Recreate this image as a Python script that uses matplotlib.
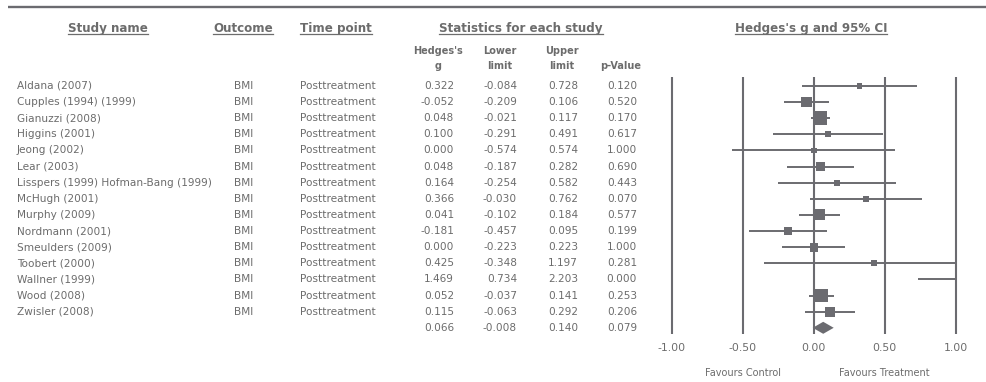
import matplotlib.pyplot as plt
import numpy as np

studies = ["Aldana (2007)", "Cupples (1994) (1999)", "Gianuzzi (2008)", "Higgins (2001)",
           "Jeong (2002)", "Lear (2003)", "Lisspers (1999) Hofman-Bang (1999)", "McHugh (2001)",
           "Murphy (2009)", "Nordmann (2001)", "Smeulders (2009)", "Toobert (2000)",
           "Wallner (1999)", "Wood (2008)", "Zwisler (2008)"]
outcome = "BMI"
timepoint = "Posttreatment"
g = [0.322, -0.052, 0.048, 0.100, 0.000, 0.048, 0.164, 0.366, 0.041, -0.181, 0.000, 0.425, 1.469, 0.052, 0.115]
lower = [-0.084, -0.209, -0.021, -0.291, -0.574, -0.187, -0.254, -0.030, -0.102, -0.457, -0.223, -0.348, 0.734, -0.037, -0.063]
upper = [0.728, 0.106, 0.117, 0.491, 0.574, 0.282, 0.582, 0.762, 0.184, 0.095, 0.223, 1.197, 2.203, 0.141, 0.292]
pval = [0.120, 0.520, 0.170, 0.617, 1.000, 0.690, 0.443, 0.070, 0.577, 0.199, 1.000, 0.281, 0.000, 0.253, 0.206]
pooled = [0.066, -0.008, 0.140, 0.079]
ticks = [-1.0, -0.5, 0.0, 0.5, 1.0]

TXT = "#6c6c6c"
LN = "#6b6b70"
W, H = 986, 382

def row(p):
    # pixel row from top -> table row units
    return (p - 86) / 16.12

fig = plt.figure(figsize=(W / 100, H / 100), dpi=100)
ax = fig.add_axes([0, 0, 1, 1])
ax.set_xlim(0, W)
ax.set_ylim(row(H), row(0))
ax.axis("off")

fa = fig.add_axes([672 / W, 0, (955.7 - 672) / W, 1])
fa.set_xlim(-1, 1)
fa.set_ylim(row(H), row(0))
fa.axis("off")

ax.plot([8, W], [row(6.5)] * 2, color=LN, lw=1.7, solid_capstyle="butt")

# column headers (bold, underlined)
headers = [("Study name", 108), ("Outcome", 243), ("Time point", 336),
           ("Statistics for each study", 521), ("Hedges's g and 95% CI", 811)]
htexts = []
for lab, x in headers:
    htexts.append(ax.text(x, row(32), lab, ha="center", va="baseline", fontsize=8.6,
                          fontweight="bold", color=TXT))

subs = [("Hedges's", "g", 438), ("Lower", "limit", 500), ("Upper", "limit", 562), ("", "p-Value", 621)]
for l1, l2, x in subs:
    ax.text(x, row(51), l1, ha="center", va="center", fontsize=7, fontweight="bold", color=TXT)
    ax.text(x, row(66), l2, ha="center", va="center", fontsize=7, fontweight="bold", color=TXT)

for i, name in enumerate(studies):
    ax.text(17, i, name, ha="left", va="center", fontsize=7.6, color=TXT)
    ax.text(234, i, outcome, ha="left", va="center", fontsize=7.6, color=TXT)
    ax.text(300, i, timepoint, ha="left", va="center", fontsize=7.6, color=TXT)

cols = [454, 517, 578, 637]
table = list(zip(g, lower, upper, pval)) + [tuple(pooled)]
for i, vals in enumerate(table):
    for x, v in zip(cols, vals):
        ax.text(x, i, f"{v:.3f}", ha="right", va="center", fontsize=7.6, color=TXT)

# forest plot
top, bot = row(77), row(334)
for t in ticks:
    fa.plot([t, t], [top, bot], color=LN, lw=1.5, clip_on=False, solid_capstyle="butt")
    fa.text(t, row(348), f"{t:.2f}", ha="center", va="center", fontsize=7.8, color=TXT, clip_on=False)
fa.text(-0.5, row(373), "Favours Control", ha="center", va="center", fontsize=7, color=TXT, clip_on=False)
fa.text(0.5, row(373), "Favours Treatment", ha="center", va="center", fontsize=7, color=TXT, clip_on=False)

# random-effects weights (DerSimonian-Laird) for marker sizes
y = np.array(g)
v = ((np.array(upper) - np.array(lower)) / 3.92) ** 2
w = 1 / v
q = np.sum(w * (y - np.sum(w * y) / np.sum(w)) ** 2)
c = np.sum(w) - np.sum(w ** 2) / np.sum(w)
tau2 = max(0.0, (q - (len(y) - 1)) / c)
wr = 1 / (v + tau2)
side = np.maximum(13.6 * np.sqrt(wr / wr.max()), 5.8)

rows = np.arange(len(studies))
fa.hlines(rows, lower, upper, color=LN, lw=1.4)
fa.scatter(g, rows, marker="s", s=(side * 0.72) ** 2, color=LN, linewidths=0, zorder=3)

pg, plo, phi = pooled[0], pooled[1], pooled[2]
r = len(studies)
h = 6 / 16.12
fa.fill([plo, pg, phi, pg], [r, r - h, r, r + h], color=LN, lw=0, zorder=3)

# underline the headers
fig.canvas.draw()
rend = fig.canvas.get_renderer()
for t in htexts:
    bb = t.get_window_extent(rend)
    x0, x1 = bb.x0 / W, bb.x1 / W
    yb = ax.transData.transform((0, row(34)))[1] / H
    fig.add_artist(plt.Line2D([x0, x1], [yb, yb], color=TXT, lw=0.9))

fig.savefig("out.png", dpi=100, facecolor="white")
